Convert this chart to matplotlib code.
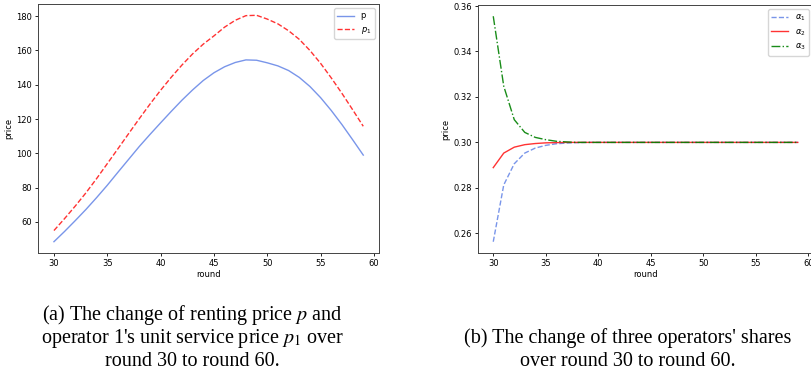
import matplotlib
matplotlib.use("Agg")
import matplotlib.pyplot as plt

plt.rcParams['mathtext.fontset'] = 'dejavusans'

rounds = list(range(30, 60))

# renting price p and operator 1's unit service price p1
p = [48.5, 54.5, 60.8, 67.3, 74.2, 81.4, 89.0, 96.5, 104.0, 111.0,
     117.8, 124.5, 131.0, 137.0, 142.5, 147.0, 150.5, 153.0, 154.5, 154.3,
     152.8, 151.0, 148.3, 144.3, 139.0, 132.5, 125.0, 116.8, 108.0, 99.0]
p1 = [55.0, 62.0, 69.3, 77.0, 85.3, 94.0, 102.7, 111.5, 120.2, 128.7,
      136.8, 144.4, 151.5, 158.0, 163.7, 168.5, 173.6, 177.6, 180.3, 180.5,
      178.3, 175.5, 171.5, 166.5, 160.0, 152.5, 144.0, 135.0, 125.5, 115.8]

# shares of the three operators
alpha1 = [0.2563, 0.2813, 0.2906, 0.2953, 0.2975, 0.2987, 0.2994, 0.2997, 0.2999] + [0.300] * 21
alpha2 = [0.2889, 0.2953, 0.2979, 0.2990, 0.2995, 0.2998, 0.2999] + [0.300] * 23
alpha3 = [0.3555, 0.3247, 0.3100, 0.3044, 0.3022, 0.3012, 0.3005, 0.3002] + [0.300] * 22

cap_a = ["(a) The change of renting price $p$ and",
         "operator 1's unit service price $p_1$ over",
         "round 30 to round 60."]
cap_b = ["(b) The change of three operators' shares",
         "over round 30 to round 60."]

fig = plt.figure(figsize=(8.12, 3.73), dpi=100)
ax1 = fig.add_axes([0.0474, 0.3217, 0.419, 0.6676])
ax2 = fig.add_axes([0.5887, 0.3217, 0.4126, 0.665])

fs = 6
ax1.plot(rounds, p, color='royalblue', alpha=0.7, lw=1.0, label='p')
ax1.plot(rounds, p1, color='red', alpha=0.8, lw=1.0, ls='--', label='$p_1$')
ax1.set_xlabel('round', fontsize=fs, labelpad=1)
ax1.set_ylabel('price', fontsize=fs, labelpad=2)
ax1.legend(loc='upper right', fontsize=fs)

ax2.plot(rounds, alpha1, color='royalblue', alpha=0.7, lw=1.0, ls='--', label=r'$\alpha_1$')
ax2.plot(rounds, alpha2, color='red', alpha=0.8, lw=1.0, label=r'$\alpha_2$')
ax2.plot(rounds, alpha3, color='green', alpha=0.9, lw=1.0, ls='-.', label=r'$\alpha_3$')
ax2.set_xlabel('round', fontsize=fs, labelpad=1)
ax2.set_ylabel('price', fontsize=fs, labelpad=2)
ax2.legend(loc='upper right', fontsize=fs)

for ax in (ax1, ax2):
    ax.tick_params(labelsize=fs, length=2.5, width=0.6, pad=2)
    for s in ax.spines.values():
        s.set_linewidth(0.7)
        s.set_color('#444444')

# captions under each panel, one line at a time (pixel rows from top)
def caption(lines, xc, y0, step=23.5):
    for i, line in enumerate(lines):
        y = 1 - (y0 + i * step) / 373
        fig.text(xc, y, line, ha='center', va='center', family='Liberation Serif',
                 fontsize=14.5, math_fontfamily='stix')

caption(cap_a, 0.2365, 315)
caption(cap_b, 0.773, 338)

fig.savefig('out.png', dpi=100)
